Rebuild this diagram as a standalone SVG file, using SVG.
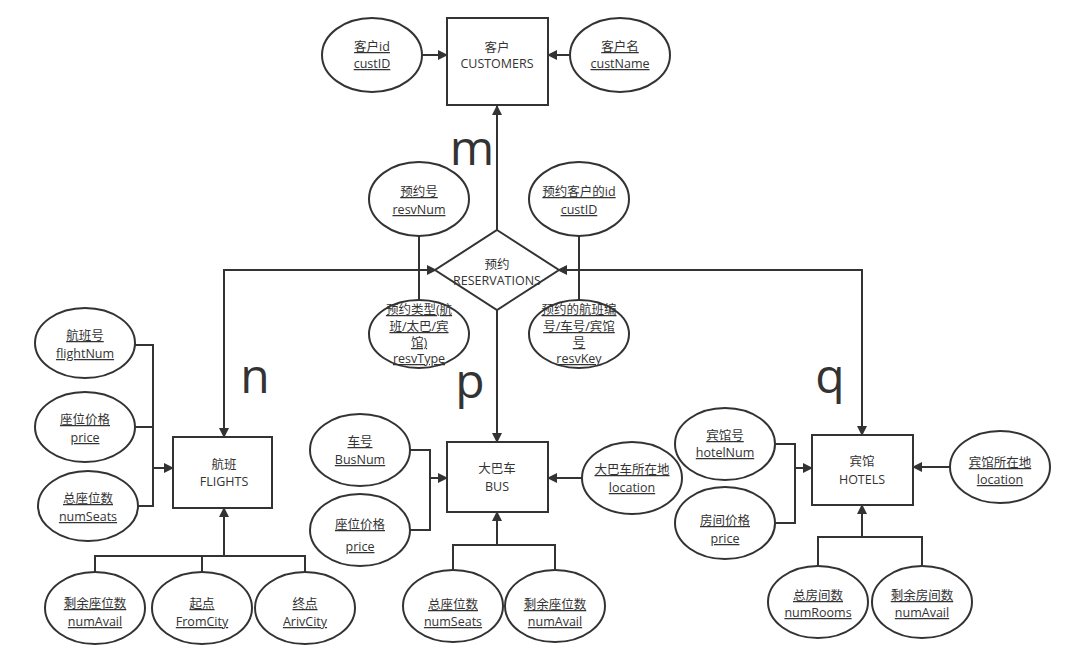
<svg xmlns="http://www.w3.org/2000/svg" width="1072" height="657" viewBox="0 0 1072 657">
<style>
text{font-family:"Open Sans","Noto Sans CJK SC",sans-serif;font-size:12.5px;fill:#333;text-anchor:middle}
.a{text-decoration:underline}
.big{font-size:48px;font-family:"Open Sans",sans-serif}
ellipse,rect,polygon.n{fill:#fff;stroke:#333;stroke-width:2}
.c path{fill:none;stroke:#333;stroke-width:2}
</style>
<defs><marker id="ar" markerWidth="10" markerHeight="10" refX="9" refY="5" orient="auto" markerUnits="userSpaceOnUse" viewBox="0 0 10 10"><path d="M0,0L10,5L0,10z" fill="#333"/></marker>
<marker id="as" markerWidth="10" markerHeight="10" refX="1" refY="5" orient="auto" markerUnits="userSpaceOnUse" viewBox="0 0 10 10"><path d="M10,0L0,5L10,10z" fill="#333"/></marker></defs>
<g class="c">
<path d="M422,55H447" marker-end="url(#ar)"/>
<path d="M570,55H548" marker-end="url(#ar)"/>
<path d="M497,230V106" marker-end="url(#ar)"/>
<path d="M419,236V300"/><path d="M579,236V300"/>
<path d="M224,437V270H436" marker-start="url(#as)" marker-end="url(#ar)" style="marker-start:none"/>
<path d="M224,280V437" marker-end="url(#ar)"/>
<path d="M862,435V270H558" marker-end="url(#ar)"/>
<path d="M862,280V435" marker-end="url(#ar)"/>
<path d="M497,310V442" marker-end="url(#ar)"/>
<path d="M135,345H153V506H138M135,427H153"/><path d="M153,468H173" marker-end="url(#ar)"/>
<path d="M95,572V556H305V572M202,572V556"/><path d="M224,556V508" marker-end="url(#ar)"/>
<path d="M410,450H430V530H410"/><path d="M430,478H447" marker-end="url(#ar)"/>
<path d="M582,478H548" marker-end="url(#ar)"/>
<path d="M453,570V545H555V570"/><path d="M497,545V512" marker-end="url(#ar)"/>
<path d="M775,444H795V523H775"/><path d="M795,468H812" marker-end="url(#ar)"/>
<path d="M950,467H913" marker-end="url(#ar)"/>
<path d="M818,565V537H922V565"/><path d="M862,537V505" marker-end="url(#ar)"/>
</g>
<text class="big" x="472" y="165">m</text>
<text class="big" x="255" y="393">n</text>
<text class="big" x="470" y="398">p</text>
<text class="big" x="830" y="393">q</text>
<g id="customers"><rect x="447" y="18" width="101" height="87"/><text x="497" y="52">客户</text><text x="497" y="68">CUSTOMERS</text></g>
<g id="custid"><ellipse cx="372" cy="55" rx="50" ry="37"/><text class="a" x="372" y="51">客户id</text><text class="a" x="372" y="68">custID</text></g>
<g id="custname"><ellipse cx="620" cy="55" rx="50" ry="37"/><text class="a" x="620" y="51">客户名</text><text class="a" x="620" y="68">custName</text></g>
<g id="resv"><polygon class="n" points="497,230 559,270 497,310 435,270"/><text x="497" y="269">预约</text><text x="497" y="285">RESERVATIONS</text></g>
<g id="resvnum"><ellipse cx="419" cy="199" rx="50" ry="37"/><text class="a" x="419" y="196">预约号</text><text class="a" x="419" y="214">resvNum</text></g>
<g id="rcust"><ellipse cx="579" cy="199" rx="50" ry="37"/><text class="a" x="579" y="196">预约客户的id</text><text class="a" x="579" y="214">custID</text></g>
<g id="rtype"><ellipse cx="419" cy="334" rx="50" ry="34"/><text class="a" x="419" y="314">预约类型(航</text><text class="a" x="419" y="331">班/太巴/宾</text><text class="a" x="419" y="347">馆)</text><text class="a" x="419" y="363">resvType</text></g>
<g id="rkey"><ellipse cx="579" cy="334" rx="50" ry="34"/><text class="a" x="579" y="314">预约的航班编</text><text class="a" x="579" y="331">号/车号/宾馆</text><text class="a" x="579" y="347">号</text><text class="a" x="579" y="363">resvKey</text></g>
<g id="flights"><rect x="173" y="437" width="99" height="71"/><text x="224" y="469">航班</text><text x="224" y="486">FLIGHTS</text></g>
<g id="fnum"><ellipse cx="85" cy="343" rx="50" ry="35"/><text class="a" x="85" y="340">航班号</text><text class="a" x="85" y="358">flightNum</text></g>
<g id="fprice"><ellipse cx="85" cy="427" rx="50" ry="35"/><text class="a" x="85" y="424">座位价格</text><text class="a" x="85" y="442">price</text></g>
<g id="fseats"><ellipse cx="88" cy="506" rx="50" ry="35"/><text class="a" x="88" y="503">总座位数</text><text class="a" x="88" y="521">numSeats</text></g>
<g id="favail"><ellipse cx="95" cy="608" rx="50" ry="36"/><text class="a" x="95" y="608">剩余座位数</text><text class="a" x="95" y="626">numAvail</text></g>
<g id="from"><ellipse cx="202" cy="608" rx="50" ry="36"/><text class="a" x="202" y="608">起点</text><text class="a" x="202" y="626">FromCity</text></g>
<g id="ariv"><ellipse cx="305" cy="608" rx="50" ry="36"/><text class="a" x="305" y="608">终点</text><text class="a" x="305" y="626">ArivCity</text></g>
<g id="bus"><rect x="447" y="442" width="101" height="70"/><text x="497" y="473">大巴车</text><text x="497" y="491">BUS</text></g>
<g id="busnum"><ellipse cx="360" cy="450" rx="50" ry="36"/><text class="a" x="360" y="446">车号</text><text class="a" x="360" y="464">BusNum</text></g>
<g id="bprice"><ellipse cx="360" cy="530" rx="50" ry="36"/><text class="a" x="360" y="529">座位价格</text><text class="a" x="360" y="551">price</text></g>
<g id="bloc"><ellipse cx="632" cy="478" rx="50" ry="36"/><text class="a" x="632" y="474">大巴车所在地</text><text class="a" x="632" y="492">location</text></g>
<g id="bseats"><ellipse cx="453" cy="606" rx="50" ry="36"/><text class="a" x="453" y="609">总座位数</text><text class="a" x="453" y="626">numSeats</text></g>
<g id="bavail"><ellipse cx="555" cy="606" rx="50" ry="36"/><text class="a" x="555" y="609">剩余座位数</text><text class="a" x="555" y="626">numAvail</text></g>
<g id="hotels"><rect x="812" y="435" width="101" height="70"/><text x="862" y="466">宾馆</text><text x="862" y="484">HOTELS</text></g>
<g id="hnum"><ellipse cx="725" cy="444" rx="50" ry="36"/><text class="a" x="725" y="440">宾馆号</text><text class="a" x="725" y="457">hotelNum</text></g>
<g id="hprice"><ellipse cx="725" cy="523" rx="50" ry="36"/><text class="a" x="725" y="525">房间价格</text><text class="a" x="725" y="543">price</text></g>
<g id="hloc"><ellipse cx="1000" cy="467" rx="50" ry="36"/><text class="a" x="1000" y="467">宾馆所在地</text><text class="a" x="1000" y="484">location</text></g>
<g id="hrooms"><ellipse cx="818" cy="602" rx="50" ry="36"/><text class="a" x="818" y="600">总房间数</text><text class="a" x="818" y="617">numRooms</text></g>
<g id="havail"><ellipse cx="922" cy="602" rx="50" ry="36"/><text class="a" x="922" y="600">剩余房间数</text><text class="a" x="922" y="617">numAvail</text></g>
</svg>
